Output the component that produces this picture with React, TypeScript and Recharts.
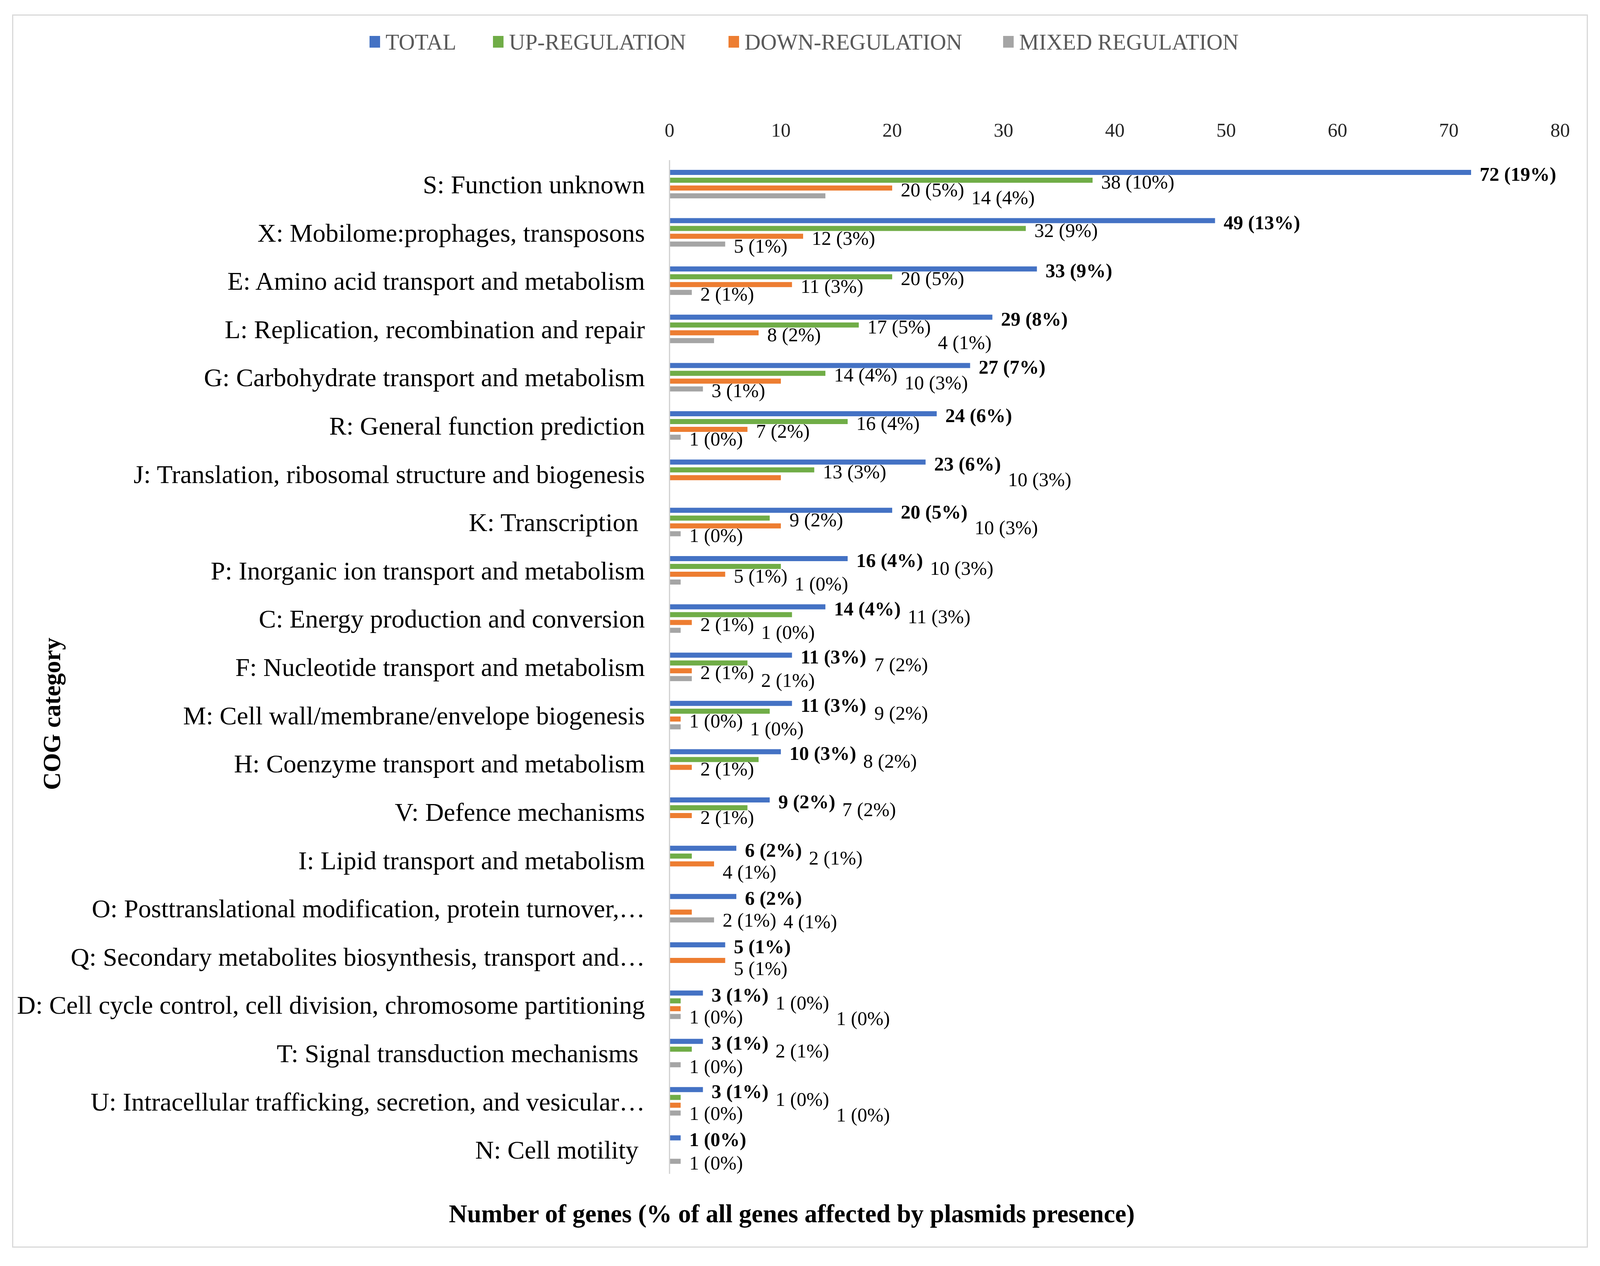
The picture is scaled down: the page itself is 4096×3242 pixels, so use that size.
import React from 'react';
import { BarChart, Bar, XAxis, YAxis, LabelList } from 'recharts';

// COG categories, top to bottom
const categories = [
  'S: Function unknown',
  'X: Mobilome:prophages, transposons',
  'E: Amino acid transport and metabolism',
  'L: Replication, recombination and repair',
  'G: Carbohydrate transport and metabolism',
  'R: General function prediction',
  'J: Translation, ribosomal structure and biogenesis',
  'K: Transcription\u00a0',
  'P: Inorganic ion transport and metabolism',
  'C: Energy production and conversion',
  'F: Nucleotide transport and metabolism',
  'M: Cell wall/membrane/envelope biogenesis',
  'H: Coenzyme transport and metabolism',
  'V: Defence mechanisms',
  'I: Lipid transport and metabolism',
  'O: Posttranslational modification, protein turnover,…',
  'Q: Secondary metabolites biosynthesis, transport and…',
  'D: Cell cycle control, cell division, chromosome partitioning',
  'T: Signal transduction mechanisms\u00a0',
  'U: Intracellular trafficking, secretion, and vesicular…',
  'N: Cell motility\u00a0',
];

const totalGenes = [72, 49, 33, 29, 27, 24, 23, 20, 16, 14, 11, 11, 10, 9, 6, 6, 5, 3, 3, 3, 1];
const totalPct = [19, 13, 9, 8, 7, 6, 6, 5, 4, 4, 3, 3, 3, 2, 2, 2, 1, 1, 1, 1, 0];
const upGenes = [38, 32, 20, 17, 14, 16, 13, 9, 10, 11, 7, 9, 8, 7, 2, 0, 0, 1, 2, 1, 0];
const upPct = [10, 9, 5, 5, 4, 4, 3, 2, 3, 3, 2, 2, 2, 2, 1, 0, 0, 0, 1, 0, 0];
const downGenes = [20, 12, 11, 8, 10, 7, 10, 10, 5, 2, 2, 1, 2, 2, 4, 2, 5, 1, 0, 1, 0];
const downPct = [5, 3, 3, 2, 3, 2, 3, 3, 1, 1, 1, 0, 1, 1, 1, 1, 1, 0, 0, 0, 0];
const mixedGenes = [14, 5, 2, 4, 3, 1, 0, 1, 1, 1, 2, 1, 0, 0, 0, 4, 0, 1, 1, 1, 1];
const mixedPct = [4, 1, 1, 1, 1, 0, 0, 0, 0, 0, 1, 0, 0, 0, 0, 1, 0, 0, 0, 0, 0];

const xTicks = [0, 10, 20, 30, 40, 50, 60, 70, 80];

const SERIES = [
  { key: 'total', name: 'TOTAL', color: '#4472C4', values: totalGenes, pct: totalPct, bold: true },
  { key: 'up', name: 'UP-REGULATION', color: '#70AD47', values: upGenes, pct: upPct, bold: false },
  { key: 'down', name: 'DOWN-REGULATION', color: '#ED7D31', values: downGenes, pct: downPct, bold: false },
  { key: 'mixed', name: 'MIXED REGULATION', color: '#A5A5A5', values: mixedGenes, pct: mixedPct, bold: false },
];

const data = categories.map((name, i) => ({
  name,
  total: totalGenes[i],
  up: upGenes[i],
  down: downGenes[i],
  mixed: mixedGenes[i],
}));

const FONT = '"Liberation Serif", "Times New Roman", serif';
const BAR = 13;
const GAP = 7;
const STEP = BAR + GAP;
const LABEL_SIZE = 50;
const LABEL_GAP = 22;

// rough glyph widths for Liberation Serif (em)
const charW = (c: string, bold: boolean) => {
  if (c >= '0' && c <= '9') return 0.5;
  if (c === ' ') return 0.25;
  if (c === '(' || c === ')') return 0.333;
  if (c === '%') return bold ? 1.0 : 0.833;
  return 0.5;
};
const textWidth = (t: string, bold: boolean) =>
  t.split('').reduce((s, c) => s + charW(c, bold), 0) * LABEL_SIZE;

const labelText = (j: number, i: number) => `${SERIES[j].values[i]} (${SERIES[j].pct[i]}%)`;

// place labels of one category in series order; a label that runs into an
// earlier label is first nudged down a little, then pushed to the right
function placeLabels(i: number, x0: number, k: number, ycS: number, s: number) {
  const boxes: any[] = [];
  let mine: any = null;
  const minDy = LABEL_SIZE * 1.1;
  const ends = SERIES.map((S) => x0 + S.values[i] * k);
  const hits = (lx: number, w: number, yc: number) =>
    boxes.find((b) => Math.abs(b.yc - yc) < minDy && lx < b.x + b.w + 12 && lx + w > b.x - 12);
  for (let j = 0; j < SERIES.length; j++) {
    const v = SERIES[j].values[i];
    if (!v) continue;
    const text = labelText(j, i);
    const w = textWidth(text, SERIES[j].bold);
    const base = ycS + (j - s) * STEP + 4;
    let lx = ends[j] + LABEL_GAP;
    const below = j + 1 < SERIES.length ? SERIES[j + 1].values[i] : 0;
    if (below && ends[j + 1] > ends[j]) lx = ends[j + 1] + LABEL_GAP;
    let yc = base;
    if (hits(lx, w, base) && j < SERIES.length - 1 && !hits(lx, w, base + 16)) {
      yc = base + 16;
    } else {
      let guard = 0;
      let b = hits(lx, w, yc);
      while (b && guard < 12) {
        lx = b.x + b.w + 18;
        b = hits(lx, w, yc);
        guard++;
      }
    }
    boxes.push({ x: lx, w, yc });
    if (j === s) mine = { x: lx, yc, text };
  }
  return mine;
}

// the label list is keyed on the category name, so we know which row we are in
const makeLabel = (s: number) => (props: any) => {
  const vb = props.viewBox || props;
  const i = categories.indexOf(props.value);
  if (i < 0 || vb == null) return null;
  const value = SERIES[s].values[i];
  if (!value) return null;
  const k = vb.width / value;
  const pos = placeLabels(i, vb.x, k, vb.y + vb.height / 2, s);
  if (!pos) return null;
  return (
    <text
      x={pos.x}
      y={pos.yc}
      dy="0.35em"
      fontFamily={FONT}
      fontSize={LABEL_SIZE}
      fontWeight={SERIES[s].bold ? 700 : 400}
      fill="#000"
    >
      {pos.text}
    </text>
  );
};

const CategoryTick = (props: any) => {
  const { x, y, payload } = props;
  return (
    <text x={x} y={y} dy="0.35em" textAnchor="end" fontFamily={FONT} fontSize={66} fill="#000">
      {payload.value}
    </text>
  );
};

const legendLeft = [946, 1262, 1865, 2568];

export default function App() {
  return (
    <div style={{ position: 'absolute', left: 0, top: 0, width: 4096, height: 3242, background: '#fff' }}>
      <div
        style={{
          position: 'absolute',
          left: 31,
          top: 37,
          width: 4028,
          height: 3152,
          border: '3px solid #d9d9d9',
        }}
      />
      {SERIES.map((s, i) => (
        <div
          key={s.key}
          style={{
            position: 'absolute',
            left: legendLeft[i],
            top: 77,
            height: 60,
            display: 'flex',
            alignItems: 'center',
            fontFamily: FONT,
            fontSize: 57,
            color: '#595959',
            whiteSpace: 'nowrap',
          }}
        >
          <span style={{ display: 'inline-block', width: 27, height: 30, background: s.color, marginRight: 14 }} />
          {s.name}
        </div>
      ))}
      <div style={{ position: 'absolute', left: 0, top: 0 }}>
        <BarChart
          width={4096}
          height={3242}
          data={data}
          layout="vertical"
          barGap={GAP}
          margin={{ top: 350, right: 102, bottom: 236, left: 0 }}
        >
          <XAxis
            type="number"
            orientation="top"
            domain={[0, 80]}
            ticks={xTicks}
            height={60}
            axisLine={false}
            tickLine={false}
            tickSize={0}
            tickMargin={60}
            tick={{ fontFamily: FONT, fontSize: 50, fill: '#262626' }}
          />
          <YAxis
            type="category"
            dataKey="name"
            width={1714}
            interval={0}
            tickLine={false}
            tickSize={0}
            tickMargin={63}
            axisLine={{ stroke: '#d0d0d0', strokeWidth: 3 }}
            tick={<CategoryTick />}
          />
          {SERIES.map((s, j) => (
            <Bar key={s.key} dataKey={s.key} name={s.name} fill={s.color} barSize={BAR} isAnimationActive={false}>
              <LabelList dataKey="name" content={makeLabel(j)} />
            </Bar>
          ))}
        </BarChart>
      </div>
      <div
        style={{
          position: 'absolute',
          left: 2027 - 1200,
          width: 2400,
          top: 3108 - 40,
          height: 80,
          lineHeight: '80px',
          textAlign: 'center',
          fontFamily: FONT,
          fontWeight: 700,
          fontSize: 65,
          color: '#000',
        }}
      >
        Number of genes (% of all genes affected by plasmids presence)
      </div>
      <div
        style={{
          position: 'absolute',
          left: 133 - 300,
          top: 1828 - 40,
          width: 600,
          height: 80,
          lineHeight: '80px',
          textAlign: 'center',
          transform: 'rotate(-90deg)',
          fontFamily: FONT,
          fontWeight: 700,
          fontSize: 63,
          color: '#000',
        }}
      >
        COG category
      </div>
    </div>
  );
}
